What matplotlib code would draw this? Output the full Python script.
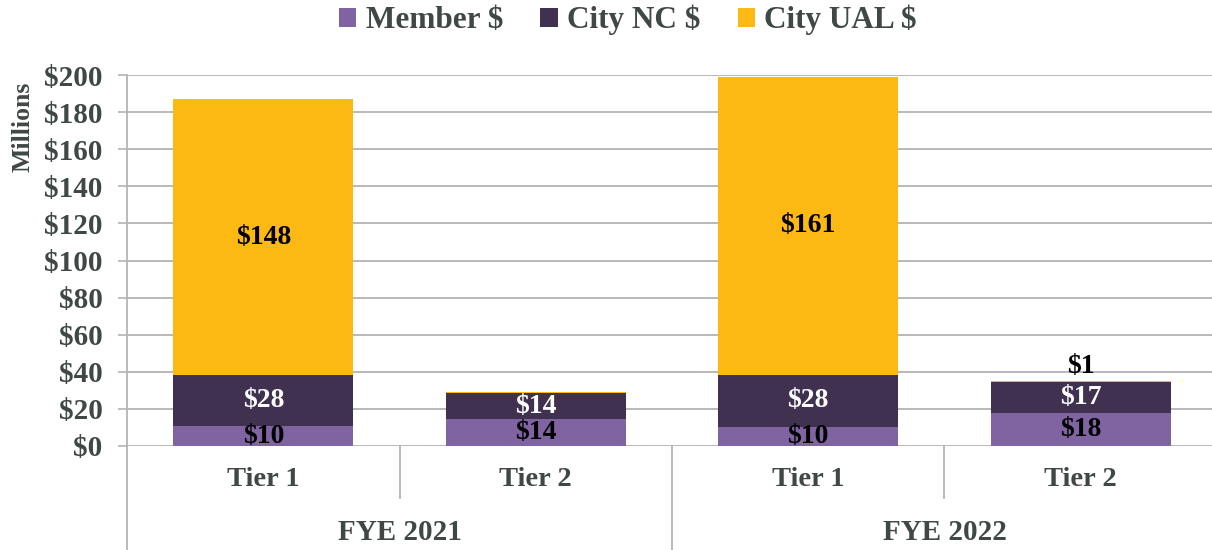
import matplotlib
matplotlib.use("Agg")
import matplotlib.pyplot as plt
import numpy as np

years = ["FYE 2021", "FYE 2022"]
tiers = ["Tier 1", "Tier 2", "Tier 1", "Tier 2"]
member = [10.6, 14.4, 10.1, 17.9]
city_nc = [27.8, 14.0, 28.4, 16.6]
city_ual = [148.4, 0.6, 160.6, 0.7]
member_labels = ["$10", "$14", "$10", "$18"]
nc_labels = ["$28", "$14", "$28", "$17"]
ual_labels = ["$148", "", "$161", ""]
ual_small_label = (3, "$1")
yticks = list(range(0, 201, 20))

c_member = "#8064A2"
c_nc = "#403151"
c_ual = "#FDB913"
txt = "#404846"
grid = "#B3B3B3"

plt.rcParams['font.family'] = ['Liberation Serif', 'DejaVu Serif']
plt.rcParams['font.weight'] = 'bold'

fig = plt.figure(figsize=(12.12, 5.5), dpi=100)
ax = fig.add_axes([127/1212, 1-446/550, (1217-127)/1212, (446-75)/550])

x = np.arange(len(tiers))
w = 0.66
b1 = ax.bar(x, member, w, color=c_member, label="Member $", zorder=3)
b2 = ax.bar(x, city_nc, w, bottom=member, color=c_nc, label="City NC $", zorder=3)
bot3 = np.array(member) + np.array(city_nc)
b3 = ax.bar(x, city_ual, w, bottom=bot3, color=c_ual, label="City UAL $", zorder=3)

fs = 20
ax.bar_label(b1, labels=member_labels, label_type='center', color='black', fontsize=fs, fontweight='bold')
ax.bar_label(b2, labels=nc_labels, label_type='center', color='white', fontsize=fs, fontweight='bold')
ax.bar_label(b3, labels=ual_labels, label_type='center', color='black', fontsize=fs, fontweight='bold')
i, lab = ual_small_label
ax.annotate(lab, (x[i], bot3[i] + city_ual[i]), xytext=(0, 1), textcoords='offset points',
            ha='center', va='bottom', fontsize=fs, fontweight='bold', color='black')

ax.set_xlim(-0.5, len(tiers) - 0.5)
ax.set_ylim(0, 200)
ax.set_yticks(yticks)
ax.set_yticklabels([f"${v}" for v in yticks], fontsize=21, color=txt, fontweight='bold')
ax.tick_params(axis='y', length=6.5, width=1.2, color=grid, pad=11)
ax.set_xticks([])
ax.yaxis.grid(True, color=grid, lw=1.3, zorder=0)
for s in ["top", "right", "bottom"]:
    ax.spines[s].set_visible(False)
ax.spines["left"].set_color(grid)
ax.spines["left"].set_linewidth(1.3)
fig.text(23/1212, 1-127/550, "Millions", rotation=90, ha='center', va='center',
         fontsize=18.5, color=txt, fontweight='bold')

trans = ax.get_xaxis_transform()
ax_h = 446 - 75
def ay(py):
    return (446 - py) / ax_h
for xi, t in zip(x, tiers):
    ax.text(xi, ay(479), t, transform=trans, ha='center', va='center', fontsize=20.5, color=txt, fontweight='bold')
for j, yname in enumerate(years):
    ax.text(2*j + 0.5, ay(532), yname, transform=trans, ha='center', va='center', fontsize=21, color=txt, fontweight='bold')
# separators
ax.plot([-0.5, -0.5], [ay(446), ay(552)], transform=trans, color=grid, lw=1.3, clip_on=False)
for sx in [0.5, 2.5]:
    ax.plot([sx, sx], [ay(446), ay(498)], transform=trans, color=grid, lw=1.3, clip_on=False)
ax.plot([1.5, 1.5], [ay(446), ay(552)], transform=trans, color=grid, lw=1.3, clip_on=False)

leg = fig.legend(handles=[b1, b2, b3], loc='center', bbox_to_anchor=(628/1212, 1-20/550), ncol=3,
                 frameon=False, fontsize=22.5, handlelength=0.55, handleheight=0.55,
                 handletextpad=0.3, columnspacing=1.2)
for t in leg.get_texts():
    t.set_color(txt)
    t.set_fontweight('bold')

fig.savefig("out.png", dpi=100)
